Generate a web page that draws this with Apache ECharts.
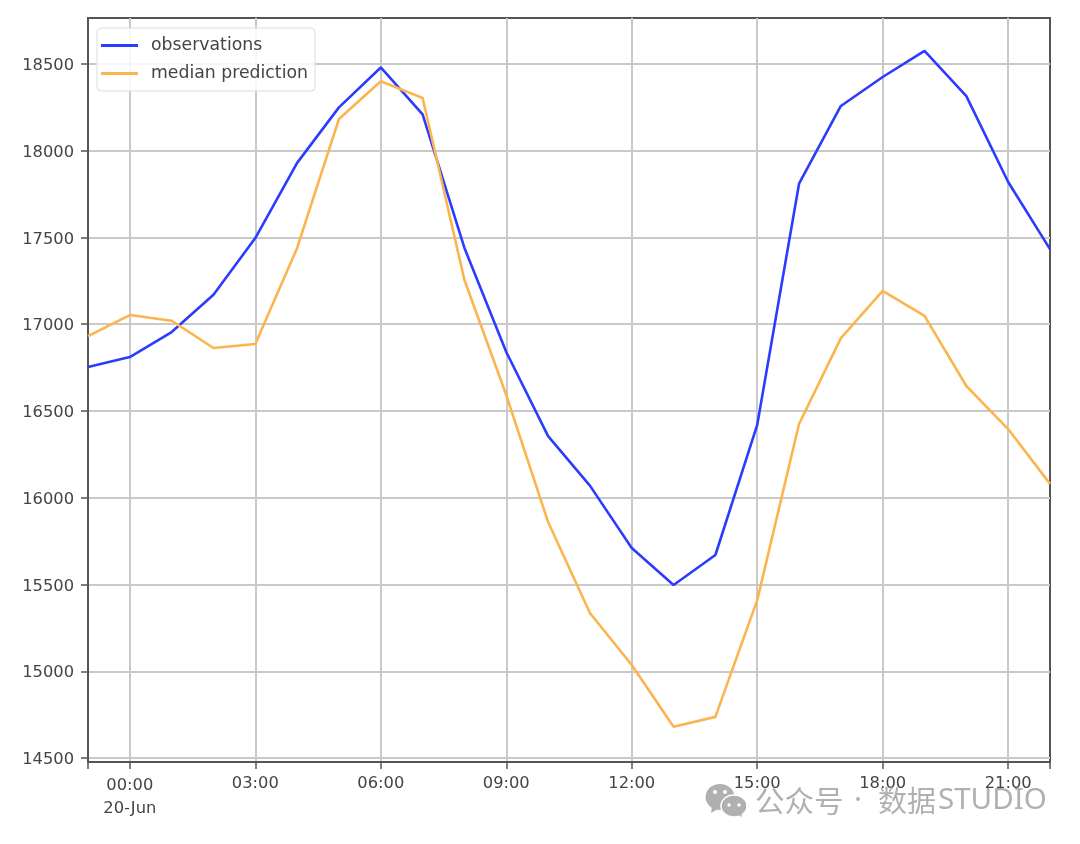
<!DOCTYPE html>
<html><head><meta charset="utf-8">
<style>html,body{margin:0;background:#fff}#c{width:1080px;height:844px;filter:blur(0.6px)}</style>
<script src="https://cdn.jsdelivr.net/npm/echarts@6/dist/echarts.min.js"></script>
</head><body><div id="c"></div>
<script>
const hours=["23:00","00:00","01:00","02:00","03:00","04:00","05:00","06:00","07:00","08:00","09:00","10:00","11:00","12:00","13:00","14:00","15:00","16:00","17:00","18:00","19:00","20:00","21:00","22:00"];
const observations=[16754,16811,16955,17170,17497,17930,18250,18480,18210,17440,16840,16355,16070,15710,15497,15670,16420,17810,18258,18425,18575,18315,17820,17433];
const medianPrediction=[16932,17053,17020,16863,16886,17440,18183,18400,18304,17255,16592,15860,15336,15036,14680,14737,15410,16425,16920,17192,17048,16644,16396,16080];
const yTicks=[14500,15000,15500,16000,16500,17000,17500,18000,18500];
const labelledHours=["00:00","03:00","06:00","09:00","12:00","15:00","18:00","21:00"];
const dateLabel="20-Jun";
const ink="#444";
const wm='#b0b0b0';
const chart=echarts.init(document.getElementById('c'),null,{renderer:'canvas'});
const isLab=(i,v)=>labelledHours.includes(v);
chart.setOption({
 animation:false,
 textStyle:{fontFamily:'DejaVu Sans'},
 grid:{left:88,right:30,top:18,bottom:82,show:true,borderColor:'#555',borderWidth:2,backgroundColor:'#fff'},
 legend:{left:97,top:28,orient:'vertical',padding:[9,7,9,4],itemGap:11,itemWidth:37,itemHeight:3,icon:'rect',
  backgroundColor:'rgba(255,255,255,0.85)',borderColor:'#ddd',borderWidth:1,borderRadius:4,
  textStyle:{color:ink,fontSize:17.3,fontFamily:'DejaVu Sans',padding:[0,0,0,8]},
  data:['observations','median prediction']},
 xAxis:{type:'category',boundaryGap:false,data:hours,
  axisLine:{lineStyle:{color:'#555',width:2}},
  axisTick:{length:7,lineStyle:{color:'#555',width:1.5},interval:(i,v)=>isLab(i,v)||i===0||i===hours.length-1},
  splitLine:{show:true,interval:isLab,lineStyle:{color:'#c9c9c9',width:2}},
  axisLabel:{color:ink,fontSize:16.3,margin:10,interval:isLab,lineHeight:23,hideOverlap:false,
   rich:{a:{fontSize:16.3,lineHeight:27,color:ink},b:{fontSize:16.3,lineHeight:19,color:ink}},
   formatter:v=>v==="00:00"?"{a|"+v+"}\n{b|"+dateLabel+"}":v}},
 yAxis:{type:'value',min:14477,max:18765,
  axisLine:{show:true,lineStyle:{color:'#555',width:2}},
  axisTick:{show:true,length:7,lineStyle:{color:'#555',width:1.5},customValues:yTicks},
  splitLine:{show:true,lineStyle:{color:'#c9c9c9',width:2}},
  axisLabel:{color:ink,fontSize:16.3,margin:14,customValues:yTicks,
   rich:{n:{fontSize:16.3,color:ink,padding:[4,0,0,0]}},formatter:v=>"{n|"+v+"}"}},
 series:[
  {name:'observations',type:'line',data:observations,symbol:'none',lineStyle:{color:'#2a3cff',width:2.6},itemStyle:{color:'#2a3cff'},z:3},
  {name:'median prediction',type:'line',data:medianPrediction,symbol:'none',lineStyle:{color:'#fbb44e',width:2.6},itemStyle:{color:'#fbb44e'},z:4}
 ],
 graphic:[
  {type:'ellipse',shape:{cx:720,cy:797,rx:14.5,ry:13},style:{fill:wm},z:20},
  {type:'polygon',shape:{points:[[712,806],[711,813],[720,808]]},style:{fill:wm},z:20},
  {type:'ellipse',shape:{cx:734,cy:806,rx:13,ry:11},style:{fill:wm,stroke:'#fff',lineWidth:1.5},z:21},
  {type:'polygon',shape:{points:[[737,814],[742,817],[741,811]]},style:{fill:wm},z:21},
  {type:'circle',shape:{cx:715,cy:792,r:2},style:{fill:'#fff'},z:22},
  {type:'circle',shape:{cx:725,cy:792,r:2},style:{fill:'#fff'},z:22},
  {type:'circle',shape:{cx:729,cy:805,r:1.7},style:{fill:'#fff'},z:22},
  {type:'circle',shape:{cx:739,cy:805,r:1.7},style:{fill:'#fff'},z:22},
  {type:'text',x:755,y:786,style:{text:'公众号',fill:wm,font:'29.5px "Noto Sans CJK SC"'},z:20},
  {type:'text',x:854,y:786,style:{text:'·',fill:wm,font:'29.5px "Noto Sans"'},z:20},
  {type:'text',x:878,y:786,style:{text:'数据',fill:wm,font:'29px "Noto Sans CJK SC"'},z:20},
  {type:'text',x:938,y:786,style:{text:'STUDIO',fill:wm,font:'29.5px "Noto Sans"'},z:20}
 ]
});
</script></body></html>
